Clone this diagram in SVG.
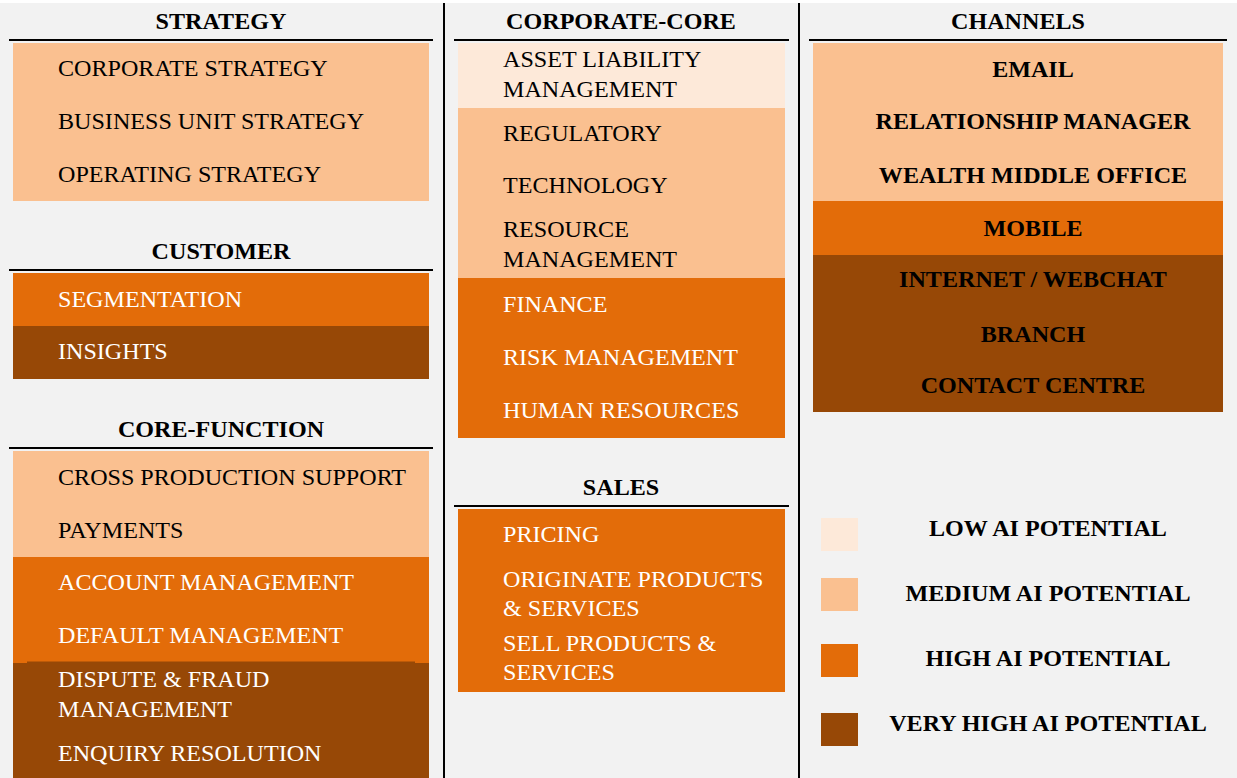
<svg xmlns="http://www.w3.org/2000/svg" width="1237" height="778" viewBox="0 0 1237 778">
<style>
.t{font-family:"Liberation Serif","Times New Roman",serif;font-size:24.1px;}
.h{font-family:"Liberation Serif","Times New Roman",serif;font-size:24.1px;font-weight:bold;fill:#000;text-anchor:middle;}
.d{fill:#000;}
.w{fill:#fff;}
.low{fill:#FDE9D9;}
.med{fill:#FAC090;}
.high{fill:#E36C09;}
.vhigh{fill:#974806;}
.rule{stroke:#000;stroke-width:2;}
</style>
<rect x="0" y="0" width="1237" height="778" fill="#fff"/>
<rect x="0" y="3" width="1237" height="775" fill="#F2F2F2"/>
<g id="dividers">
<line class="rule" x1="444" y1="3" x2="444" y2="778"/>
<line class="rule" x1="799" y1="3" x2="799" y2="778"/>
</g>

<g id="strategy">
<text class="h" x="221" y="29">STRATEGY</text>
<line class="rule" x1="9" y1="40" x2="433" y2="40"/>
<rect class="med" x="13" y="43" width="416" height="158"/>
<text class="t d" x="58" y="76">CORPORATE STRATEGY</text>
<text class="t d" x="58" y="129">BUSINESS UNIT STRATEGY</text>
<text class="t d" x="58" y="182">OPERATING STRATEGY</text>
</g>

<g id="customer">
<text class="h" x="221" y="259">CUSTOMER</text>
<line class="rule" x1="9" y1="270" x2="433" y2="270"/>
<rect class="high" x="13" y="273" width="416" height="53"/>
<rect class="vhigh" x="13" y="326" width="416" height="53"/>
<text class="t w" x="58" y="307">SEGMENTATION</text>
<text class="t w" x="58" y="359">INSIGHTS</text>
</g>

<g id="core-function">
<text class="h" x="221" y="437">CORE-FUNCTION</text>
<line class="rule" x1="9" y1="448" x2="433" y2="448"/>
<rect class="med" x="13" y="451" width="416" height="106"/>
<rect class="high" x="13" y="557" width="416" height="106"/>
<rect class="vhigh" x="13" y="663" width="416" height="115"/>
<rect class="vhigh" x="27" y="661.5" width="388" height="2"/>
<text class="t d" x="58" y="485">CROSS PRODUCTION SUPPORT</text>
<text class="t d" x="58" y="538">PAYMENTS</text>
<text class="t w" x="58" y="590">ACCOUNT MANAGEMENT</text>
<text class="t w" x="58" y="643">DEFAULT MANAGEMENT</text>
<text class="t w" x="58" y="687">DISPUTE &amp; FRAUD</text>
<text class="t w" x="58" y="717">MANAGEMENT</text>
<text class="t w" x="58" y="761">ENQUIRY RESOLUTION</text>
</g>

<g id="corporate-core">
<text class="h" x="621" y="29">CORPORATE-CORE</text>
<line class="rule" x1="454" y1="40" x2="789" y2="40"/>
<rect class="low" x="458" y="43" width="327" height="65"/>
<rect class="med" x="458" y="108" width="327" height="170"/>
<rect class="high" x="458" y="278" width="327" height="160"/>
<text class="t d" x="503" y="67">ASSET LIABILITY</text>
<text class="t d" x="503" y="97">MANAGEMENT</text>
<text class="t d" x="503" y="141">REGULATORY</text>
<text class="t d" x="503" y="193">TECHNOLOGY</text>
<text class="t d" x="503" y="237">RESOURCE</text>
<text class="t d" x="503" y="267">MANAGEMENT</text>
<text class="t w" x="503" y="312">FINANCE</text>
<text class="t w" x="503" y="365">RISK MANAGEMENT</text>
<text class="t w" x="503" y="418">HUMAN RESOURCES</text>
</g>

<g id="sales">
<text class="h" x="621" y="495">SALES</text>
<line class="rule" x1="454" y1="506" x2="789" y2="506"/>
<rect class="high" x="458" y="509" width="327" height="183"/>
<text class="t w" x="503" y="542">PRICING</text>
<text class="t w" x="503" y="587">ORIGINATE PRODUCTS</text>
<text class="t w" x="503" y="616">&amp; SERVICES</text>
<text class="t w" x="503" y="651">SELL PRODUCTS &amp;</text>
<text class="t w" x="503" y="680">SERVICES</text>
</g>

<g id="channels">
<text class="h" x="1018" y="29">CHANNELS</text>
<line class="rule" x1="809" y1="40" x2="1227" y2="40"/>
<rect class="med" x="813" y="43" width="410" height="158"/>
<rect class="high" x="813" y="201" width="410" height="54"/>
<rect class="vhigh" x="813" y="255" width="410" height="157"/>
<text class="h" x="1033" y="77">EMAIL</text>
<text class="h" x="1033" y="129">RELATIONSHIP MANAGER</text>
<text class="h" x="1033" y="183">WEALTH MIDDLE OFFICE</text>
<text class="h" x="1033" y="236">MOBILE</text>
<text class="h" x="1033" y="287">INTERNET / WEBCHAT</text>
<text class="h" x="1033" y="342">BRANCH</text>
<text class="h" x="1033" y="393">CONTACT CENTRE</text>
</g>

<g id="legend">
<g id="legend-low">
<rect class="low" x="821" y="518" width="37" height="33"/>
<text class="h" x="1048" y="536">LOW AI POTENTIAL</text>
</g>
<g id="legend-medium">
<rect class="med" x="821" y="578" width="37" height="33"/>
<text class="h" x="1048" y="601">MEDIUM AI POTENTIAL</text>
</g>
<g id="legend-high">
<rect class="high" x="821" y="644" width="37" height="33"/>
<text class="h" x="1048" y="666">HIGH AI POTENTIAL</text>
</g>
<g id="legend-vhigh">
<rect class="vhigh" x="821" y="713" width="37" height="33"/>
<text class="h" x="1048" y="731">VERY HIGH AI POTENTIAL</text>
</g>
</g>
<g id="connectors"></g>
</svg>
